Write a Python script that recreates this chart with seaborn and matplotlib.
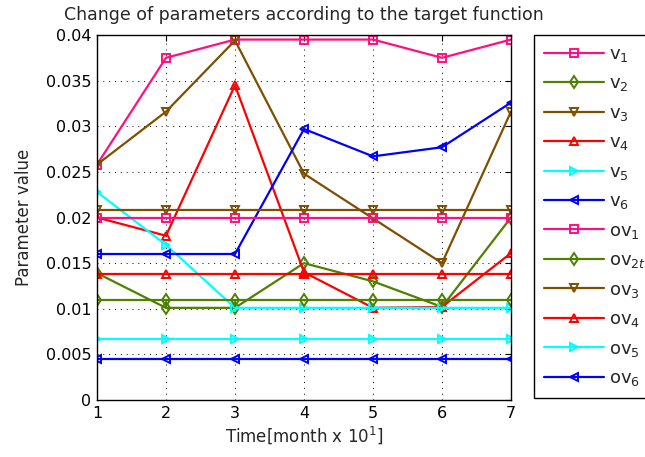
import matplotlib
matplotlib.use("Agg")
import matplotlib.pyplot as plt
import seaborn as sns
import numpy as np
from matplotlib.ticker import FuncFormatter

months = [1, 2, 3, 4, 5, 6, 7]

v1 = [0.0258, 0.0375, 0.0395, 0.0395, 0.0395, 0.0375, 0.0395]
v2 = [0.0139, 0.0101, 0.0101, 0.0150, 0.0130, 0.0102, 0.0200]
v3 = [0.0258, 0.0316, 0.0394, 0.0248, 0.0199, 0.0150, 0.0316]
v4 = [0.0200, 0.0180, 0.0345, 0.0140, 0.0101, 0.0102, 0.0161]
v5 = [0.0228, 0.0170, 0.0101, 0.0101, 0.0101, 0.0101, 0.0101]
v6 = [0.0160, 0.0160, 0.0160, 0.0297, 0.0267, 0.0277, 0.0326]
ov1 = [0.0200, 0.0200, 0.0200, 0.0200, 0.0200, 0.0200, 0.0200]
ov2 = [0.0110, 0.0110, 0.0110, 0.0110, 0.0110, 0.0110, 0.0110]
ov3 = [0.0208, 0.0208, 0.0208, 0.0208, 0.0208, 0.0208, 0.0208]
ov4 = [0.0138, 0.0138, 0.0138, 0.0138, 0.0138, 0.0138, 0.0138]
ov5 = [0.0067, 0.0067, 0.0067, 0.0067, 0.0067, 0.0067, 0.0067]
ov6 = [0.0045, 0.0045, 0.0045, 0.0045, 0.0045, 0.0045, 0.0045]

series_labels = ["v$_1$", "v$_2$", "v$_3$", "v$_4$", "v$_5$", "v$_6$",
                 "ov$_1$", "ov$_{2t}$", "ov$_3$", "ov$_4$", "ov$_5$", "ov$_6$"]
series_values = [v1, v2, v3, v4, v5, v6, ov1, ov2, ov3, ov4, ov5, ov6]

yticks = [0, 0.005, 0.01, 0.015, 0.02, 0.025, 0.03, 0.035, 0.04]

colors = ["#FF1080", "#4F8000", "#7F4F00", "#FF0000", "#00FFFF", "#0000FF"] * 2
markers = ["s", "d", "v", "^", ">", "<"] * 2

sns.set_style("white")
plt.rcParams["font.family"] = ["DejaVu Sans"]
plt.rcParams["mathtext.fontset"] = "dejavusans"

fig = plt.figure(figsize=(6.45, 4.57), dpi=100)
ax = fig.add_axes([97 / 645, 1 - 400 / 457, (511 - 97) / 645, (400 - 35) / 457])

for lab, vals, c, m in zip(series_labels, series_values, colors, markers):
    sns.lineplot(x=months, y=vals, ax=ax, color=c, marker=m, markersize=6,
                 markerfacecolor="none", markeredgecolor=c, markeredgewidth=1.4,
                 linewidth=1.6, label=lab, legend=False)

ax.set_xlim(1, 7)
ax.set_ylim(0, 0.04)
ax.set_xticks(months)
ax.set_yticks(yticks)
ax.yaxis.set_major_formatter(FuncFormatter(lambda v, p: "%g" % v))
ax.grid(True, color="black", linestyle=(0, (1, 5)), linewidth=0.7)
for s in ax.spines.values():
    s.set_color("black")
    s.set_linewidth(1.0)
ax.tick_params(direction="in", top=True, right=True, length=4, width=0.8,
               labelsize=11.5, colors="black", pad=4)

ax.set_title("Change of parameters according to the target function", fontsize=12.5, pad=11)
ax.set_xlabel("Time[month x 10$^1$]", fontsize=12, labelpad=3)
ax.set_ylabel("Parameter value", fontsize=12, labelpad=9)

handles, labels = ax.get_legend_handles_labels()
leg = fig.legend(handles, labels, loc="upper left",
                 bbox_to_anchor=(534 / 645, 1 - 35 / 457), borderaxespad=0,
                 fontsize=13, frameon=True, fancybox=False, framealpha=1,
                 edgecolor="black", handlelength=3.3, handletextpad=0.3,
                 borderpad=0.55, labelspacing=0.58)
leg.get_frame().set_linewidth(1.0)

fig.savefig("out.png", dpi=100)
